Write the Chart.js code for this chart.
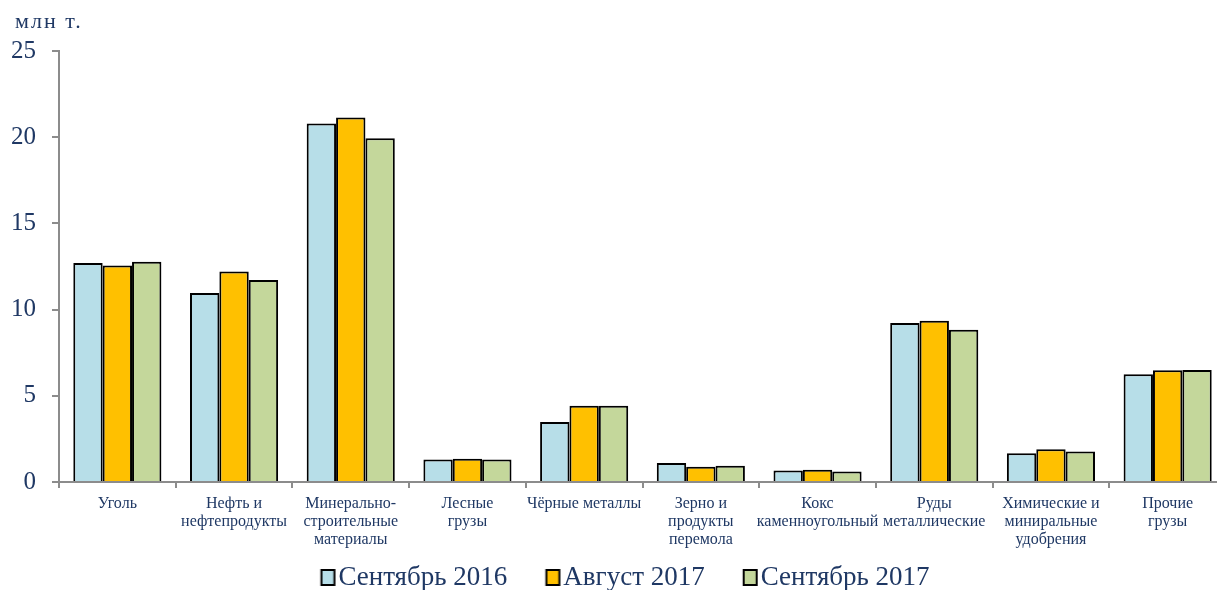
<!DOCTYPE html>
<html>
<head>
<meta charset="utf-8">
<script src="https://cdn.jsdelivr.net/npm/chart.js@4"></script>
<style>
    html, body { margin: 0; padding: 0; background: #fff; overflow: hidden; }
    #wrap { width: 1230px; height: 601px; }
</style>
</head>
<body>
<div id="wrap"><canvas id="cargoChart"></canvas></div>
<script>
var categories = [
    'Уголь',
    ['Нефть и', 'нефтепродукты'],
    ['Минерально-', 'строительные', 'материалы'],
    ['Лесные', 'грузы'],
    'Чёрные металлы',
    ['Зерно и', 'продукты', 'перемола'],
    ['Кокс', 'каменноугольный'],
    ['Руды', 'металлические'],
    ['Химические и', 'миниральные', 'удобрения'],
    ['Прочие', 'грузы']
];
var seriesNames = ['Сентябрь 2016', 'Август 2017', 'Сентябрь 2017'];
var sep2016 = [12.71, 10.96, 20.79, 1.31, 3.48, 1.10, 0.66, 9.22, 1.67, 6.25];
var aug2017 = [12.56, 12.21, 21.14, 1.35, 4.42, 0.89, 0.71, 9.35, 1.90, 6.48];
var sep2017 = [12.77, 11.71, 19.94, 1.31, 4.43, 0.94, 0.61, 8.83, 1.77, 6.50];
var yTicks = [0, 5, 10, 15, 20, 25];

var colors = ['#B7DEE8', '#FFC000', '#C4D79B'];
var textColor = '#1F3864';
var axisColor = '#8C8C8C';
var serif = "'Liberation Serif', 'DejaVu Serif', serif";

// квадратик легенды, сдвинутый вправо, чтобы текст стоял вплотную
function legendBox(color) {
    var cv = document.createElement('canvas');
    cv.width = 52;
    cv.height = 17;
    var c = cv.getContext('2d');
    c.fillStyle = color;
    c.fillRect(36.75, 1, 13, 15);
    c.strokeStyle = '#000';
    c.lineWidth = 2;
    c.strokeRect(36.75, 1, 13, 15);
    return cv;
}
var boxes = colors.map(legendBox);

// подпись единиц над осью
var unitLabel = {
    id: 'unitLabel',
    afterDraw: function (chart) {
        var c = chart.ctx;
        c.save();
        c.font = '22px ' + serif;
        c.letterSpacing = '2px';
        c.fillStyle = textColor;
        c.textBaseline = 'alphabetic';
        c.fillText('млн т.', 15, 28);
        c.restore();
    }
};

var ctx = document.getElementById('cargoChart').getContext('2d');
var myChart = new Chart(ctx, {
    type: 'bar',
    data: {
        labels: categories,
        datasets: [{
            label: seriesNames[0],
            data: sep2016,
            backgroundColor: colors[0],
            borderColor: '#000',
            borderWidth: 2,
        },
        {
            label: seriesNames[1],
            data: aug2017,
            backgroundColor: colors[1],
            borderColor: '#000',
            borderWidth: 2,
        },
        {
            label: seriesNames[2],
            data: sep2017,
            backgroundColor: colors[2],
            borderColor: '#000',
            borderWidth: 2,
        }]
    },
    plugins: [unitLabel],
    options: {
        responsive: true,
        maintainAspectRatio: false,
        animation: false,
        datasets: {
            bar: {
                barPercentage: 1,
                categoryPercentage: 0.755,
                borderSkipped: 'bottom'
            }
        },
        layout: {
            padding: { top: 51, left: 0, right: 4, bottom: 0 }
        },
        plugins: {
            tooltip: { enabled: false },
            legend: {
                position: 'bottom',
                labels: {
                    color: textColor,
                    font: { family: serif, size: 27 },
                    usePointStyle: true,
                    pointStyleWidth: 28.5,
                    boxHeight: 15,
                    padding: 14,
                    generateLabels: function (chart) {
                        var items = Chart.defaults.plugins.legend.labels.generateLabels(chart);
                        items.forEach(function (it, i) { it.pointStyle = boxes[i]; });
                        return items;
                    }
                }
            }
        },
        scales: {
            x: {
                afterFit: function (scale) { scale.height = 68; },
                border: { color: axisColor, width: 2 },
                grid: {
                    offset: true,
                    drawOnChartArea: false,
                    color: axisColor,
                    lineWidth: 2,
                    tickLength: 6
                },
                ticks: {
                    color: textColor,
                    font: { family: serif, size: 16, lineHeight: 1.13 },
                    padding: 7,
                    maxRotation: 0,
                    autoSkip: false
                }
            },
            y: {
                min: 0,
                max: 25,
                afterFit: function (scale) { scale.width = 59; },
                afterBuildTicks: function (scale) {
                    scale.ticks = yTicks.map(function (v) { return { value: v }; });
                },
                border: { color: axisColor, width: 2 },
                grid: {
                    drawOnChartArea: false,
                    color: axisColor,
                    lineWidth: 2,
                    tickLength: 7
                },
                ticks: {
                    color: textColor,
                    font: { family: serif, size: 25 },
                    padding: 16
                }
            }
        }
    }
});
</script>
</body>
</html>
